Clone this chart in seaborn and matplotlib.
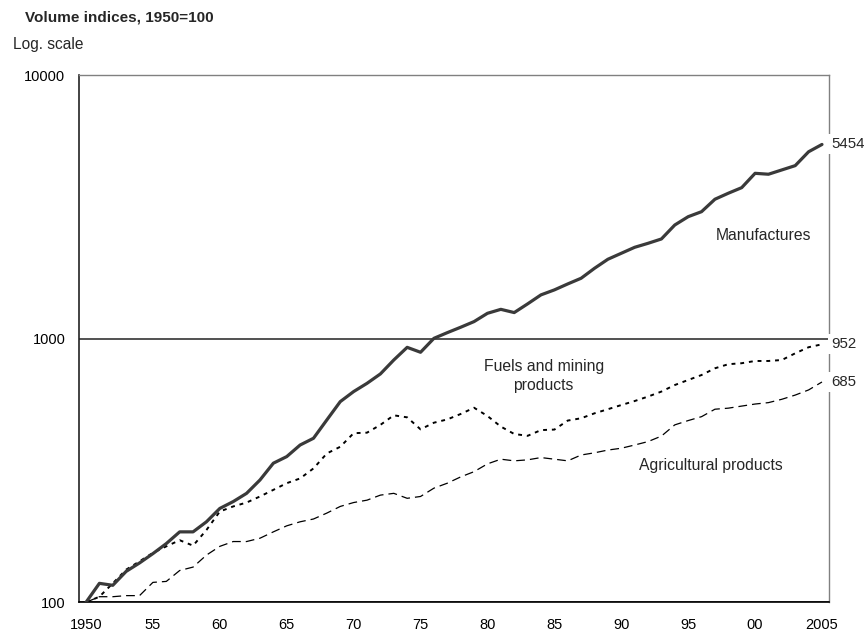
import numpy as np
import pandas as pd
import matplotlib
matplotlib.use("Agg")
import matplotlib.pyplot as plt
import matplotlib.ticker as mticker
import seaborn as sns

years = list(range(1950, 2006))
manufactures = [100, 118, 116, 131, 141, 153, 167, 185, 185, 202,
                227, 241, 259, 291, 337, 357, 395, 419, 492, 577,
                630, 677, 735, 830, 927, 888, 1003, 1054, 1105, 1161,
                1248, 1292, 1256, 1355, 1466, 1531, 1613, 1695, 1849, 2001,
                2108, 2221, 2300, 2389, 2699, 2902, 3032, 3380, 3562, 3740,
                4239, 4205, 4366, 4533, 5117, 5454]
fuels = [100, 105, 118, 133, 143, 154, 163, 172, 164, 188,
         221, 231, 239, 252, 267, 283, 295, 322, 367, 389,
         438, 440, 471, 512, 503, 453, 480, 494, 518, 547,
         509, 464, 435, 428, 450, 452, 489, 499, 521, 540,
         560, 580, 603, 630, 667, 697, 728, 772, 800, 807,
         823, 823, 830, 880, 928, 952]
agricultural = [100, 105, 105, 106, 106, 119, 120, 132, 136, 151,
                163, 170, 170, 175, 185, 195, 202, 207, 218, 231,
                239, 244, 255, 259, 248, 252, 271, 283, 299, 313,
                335, 349, 344, 347, 354, 349, 344, 362, 369, 378,
                384, 395, 407, 427, 471, 489, 506, 540, 545, 555,
                565, 572, 589, 611, 639, 685]
end_labels = ["5454", "952", "685"]
x_tick_years = [1950, 1955, 1960, 1965, 1970, 1975, 1980, 1985, 1990, 1995, 2000, 2005]
x_tick_labels = ["1950", "55", "60", "65", "70", "75", "80", "85", "90", "95", "00", "2005"]
y_ticks = [100, 1000, 10000]
y_tick_labels = ["100", "1000", "10000"]

sns.set_style("white")
plt.rcParams["font.family"] = ["Liberation Sans", "DejaVu Sans"]

df = pd.DataFrame({"year": years, "Manufactures": manufactures,
                   "Fuels": fuels, "Agricultural": agricultural})

fig = plt.figure(figsize=(8.65, 6.36), dpi=100)
ax = fig.add_axes([0.0917, 0.053, 0.958 - 0.0917, 0.882 - 0.053])

sns.lineplot(data=df, x="year", y="Manufactures", ax=ax, color="#3a3a3a",
             linewidth=2.3, solid_joinstyle="round", zorder=5)
sns.lineplot(data=df, x="year", y="Fuels", ax=ax, color="black",
             linewidth=1.4, zorder=4)
ax.lines[-1].set_dashes((2, 2.5))
sns.lineplot(data=df, x="year", y="Agricultural", ax=ax, color="black",
             linewidth=0.9, zorder=4)
ax.lines[-1].set_dashes((7, 4))

ax.set_yscale("log")
ax.set_ylim(100, 10000)
ax.set_xlim(1949.5, 2005.5)
ax.set_yticks(y_ticks)
ax.set_yticklabels(y_tick_labels)
ax.yaxis.set_minor_locator(mticker.NullLocator())
ax.set_xticks(x_tick_years)
ax.set_xticklabels(x_tick_labels)
ax.set_xticks(np.arange(1949.5, 2006, 1.0), minor=True)
ax.tick_params(axis="x", which="major", length=0, pad=11, labelsize=10.5, colors="black")
ax.tick_params(axis="x", which="minor", length=5, direction="in", width=0.9, color="black")
ax.tick_params(axis="y", which="major", length=0, pad=10, labelsize=10.5, colors="black")
ax.set_xlabel("")
ax.set_ylabel("")

ax.yaxis.grid(True, which="major", color="#333333", linewidth=1.2)
ax.xaxis.grid(False)
ax.set_axisbelow(True)

for side in ["top", "right"]:
    ax.spines[side].set_visible(True)
    ax.spines[side].set_color("#808080")
    ax.spines[side].set_linewidth(1.0)
ax.spines["left"].set_color("#222222")
ax.spines["left"].set_linewidth(1.2)
ax.spines["bottom"].set_color("black")
ax.spines["bottom"].set_linewidth(1.2)

series_last = [manufactures[-1], fuels[-1], agricultural[-1]]
for lab, val in zip(end_labels, series_last):
    ax.annotate(lab, xy=(1.0, val), xycoords=("axes fraction", "data"),
                xytext=(2, 0), textcoords="offset points", ha="left", va="center",
                fontsize=10.8, clip_on=False, zorder=10,
                bbox=dict(boxstyle="square,pad=0.2", facecolor="white", edgecolor="none"))

ax.text(2000.6, 2472, "Manufactures", ha="center", va="center", fontsize=11.3)
ax.text(1984.2, 722, "Fuels and mining\nproducts", ha="center", va="center",
        fontsize=11.3, linespacing=1.35)
ax.text(1996.7, 329, "Agricultural products", ha="center", va="center", fontsize=11.3)

fig.text(25 / 865, 1 - 17 / 636, "Volume indices, 1950=100", ha="left", va="center",
         fontsize=11, fontweight="bold")
fig.text(12.7 / 865, 1 - 45 / 636, "Log. scale", ha="left", va="center", fontsize=11.2)

fig.savefig("out.png", dpi=100, facecolor="white")
